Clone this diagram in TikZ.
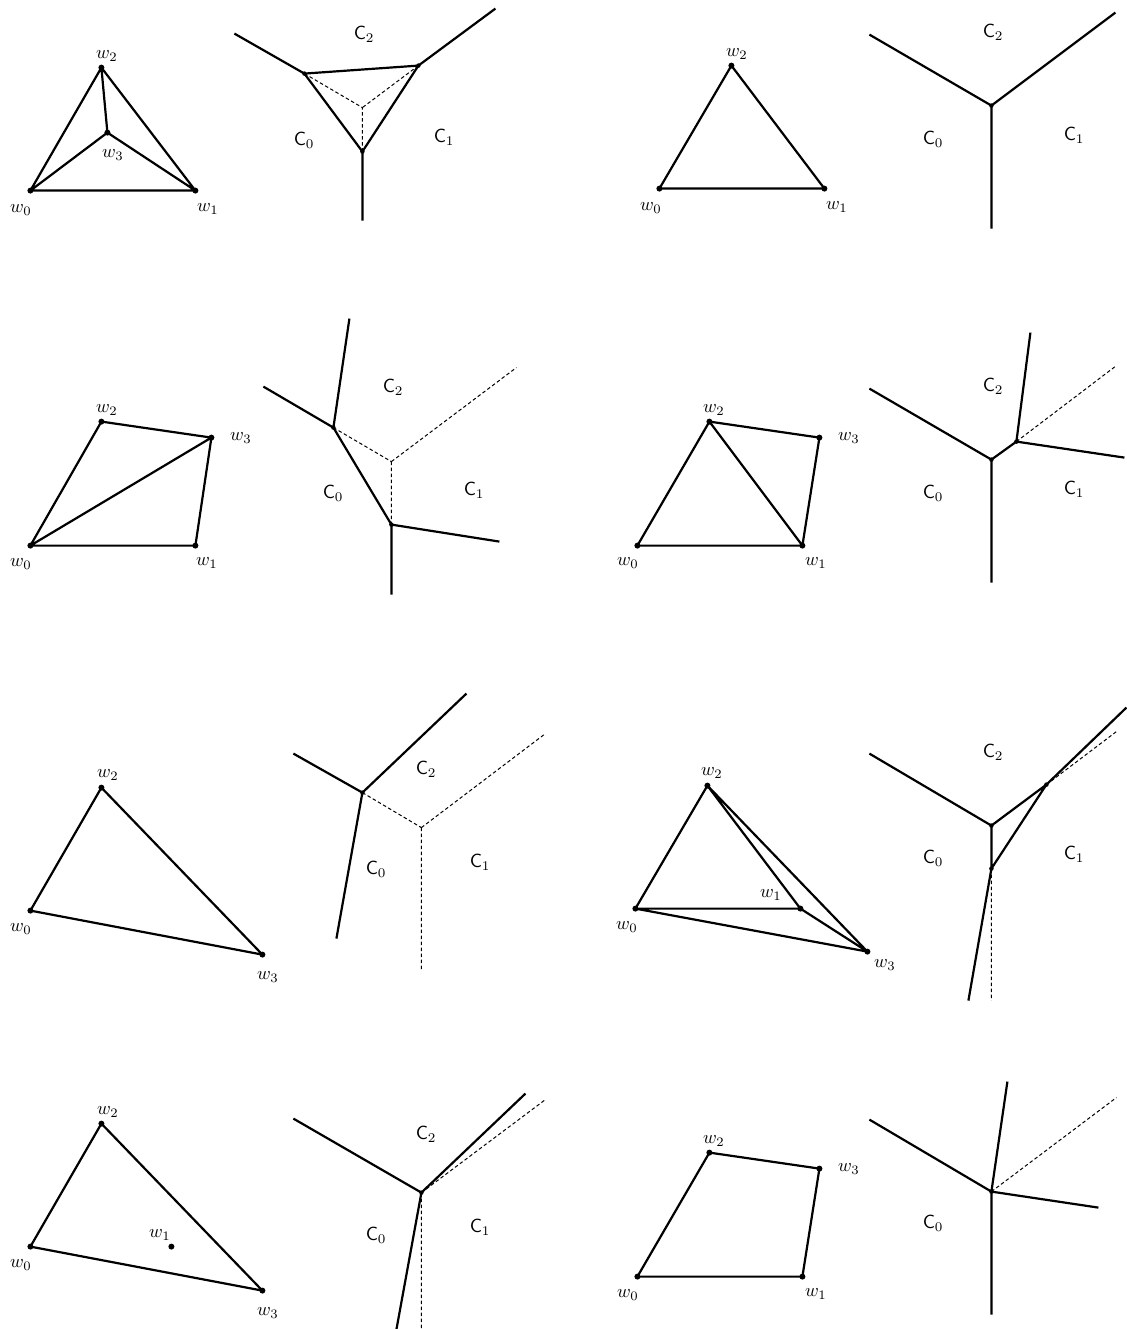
\documentclass[tikz,border=0pt]{standalone}
\tikzset{
  vx/.style={circle,fill=black,draw=none,inner sep=0pt,minimum size=6pt},
  dv/.style={circle,fill=black,draw=none,inner sep=0pt,minimum size=4.5pt},
  lab/.style={xshift=0.6pt,yshift=-1.2pt,scale=1.85,transform shape,inner sep=0pt,text=black},
  cellname/.style={xshift=0.7pt,yshift=-0.8pt,scale=1.9,transform shape,inner sep=0pt,text=black},
  solidline/.style={line width=2.2pt,black},
  dashline/.style={line width=1pt,black,dash pattern=on 3.5pt off 2.5pt},
}
\begin{document}
\begin{tikzpicture}[x=1pt,y=-1pt]
\useasboundingbox (-0.4,-0.6) rectangle (1125.6,1328.4);
\fill[white] (-0.4,-0.6) rectangle (1125.6,1328.4);

% ---------- Panel A
\node[vx] (a0) at (30,190) {};
\node[vx] (a1) at (195,190) {};
\node[vx] (a2) at (101,67) {};
\node[vx] (a3) at (107,132) {};
\draw[solidline] (a0.center)--(a1.center) (a1.center)--(a2.center) (a2.center)--(a0.center) (a0.center)--(a3.center) (a1.center)--(a3.center) (a2.center)--(a3.center);
\node[lab] (la0) at (20,208) {$w_0$};
\node[lab] (la1) at (207,207) {$w_1$};
\node[lab] (la2) at (106,54) {$w_2$};
\node[lab] (la3) at (112,153) {$w_3$};
\node[dv] (ap) at (304,73) {};
\node[dv] (aq) at (418,65) {};
\node[dv] (ar) at (362,151) {};
\coordinate (ao) at (362,107);
\coordinate (ae1) at (234,33);
\coordinate (ae2) at (495,8);
\coordinate (ae3) at (362,220);
\draw[dashline] (ap.center)--(ao) (aq.center)--(ao) (ar.center)--(ao);
\draw[solidline] (ae1)--(ap.center) (ae2)--(aq.center) (ae3)--(ar.center) (ap.center)--(aq.center) (aq.center)--(ar.center) (ar.center)--(ap.center);
\node[cellname] (ac0) at (303,139) {$\mathsf{C}_0$};
\node[cellname] (ac1) at (443,136) {$\mathsf{C}_1$};
\node[cellname] (ac2) at (363,33) {$\mathsf{C}_2$};

% ---------- Panel B
\node[vx] (b0) at (659,188) {};
\node[vx] (b1) at (824,188) {};
\node[vx] (b2) at (731,65) {};
\draw[solidline] (b0.center)--(b1.center) (b1.center)--(b2.center) (b2.center)--(b0.center);
\node[lab] (lb0) at (650,206) {$w_0$};
\node[lab] (lb1) at (836,205) {$w_1$};
\node[lab] (lb2) at (736,52) {$w_2$};
\node[dv] (bo) at (991,105) {};
\coordinate (be1) at (869,34);
\coordinate (be2) at (1115,12);
\coordinate (be3) at (991,228);
\draw[solidline] (be1)--(bo.center) (be2)--(bo.center) (be3)--(bo.center);
\node[cellname] (bc0) at (932,138) {$\mathsf{C}_0$};
\node[cellname] (bc1) at (1073,134) {$\mathsf{C}_1$};
\node[cellname] (bc2) at (992,31) {$\mathsf{C}_2$};

% ---------- Panel C
\node[vx] (c0) at (30,545) {};
\node[vx] (c1) at (195,545) {};
\node[vx] (c2) at (101,421) {};
\node[vx] (c3) at (211,437) {};
\draw[solidline] (c0.center)--(c1.center) (c1.center)--(c3.center) (c3.center)--(c2.center) (c2.center)--(c0.center) (c0.center)--(c3.center);
\node[lab] (lc0) at (20,562) {$w_0$};
\node[lab] (lc1) at (206,561) {$w_1$};
\node[lab] (lc2) at (106,408) {$w_2$};
\node[lab] (lc3) at (240,436) {$w_3$};
\node[dv] (cp) at (333,427) {};
\node[dv] (cq) at (391,524) {};
\coordinate (co) at (391,461);
\coordinate (ce1) at (263,386);
\coordinate (ce2) at (349,318);
\coordinate (ce3) at (499,541);
\coordinate (ce4) at (391,594);
\coordinate (ce5) at (516,367);
\draw[dashline] (cp.center)--(co) (co)--(ce5) (co)--(cq.center);
\draw[solidline] (ce1)--(cp.center) (ce2)--(cp.center) (cp.center)--(cq.center) (cq.center)--(ce3) (cq.center)--(ce4);
\node[cellname] (cc0) at (332,492) {$\mathsf{C}_0$};
\node[cellname] (cc1) at (473,489) {$\mathsf{C}_1$};
\node[cellname] (cc2) at (392,386) {$\mathsf{C}_2$};

% ---------- Panel D
\node[vx] (d0) at (637,545) {};
\node[vx] (d1) at (802,545) {};
\node[vx] (d2) at (709,421) {};
\node[vx] (d3) at (819,437) {};
\draw[solidline] (d0.center)--(d1.center) (d1.center)--(d3.center) (d3.center)--(d2.center) (d2.center)--(d0.center) (d2.center)--(d1.center);
\node[lab] (ld0) at (627,561) {$w_0$};
\node[lab] (ld1) at (815,561) {$w_1$};
\node[lab] (ld2) at (713,408) {$w_2$};
\node[lab] (ld3) at (848,436) {$w_3$};
\node[dv] (do) at (991,459) {};
\node[dv] (dp) at (1016,441) {};
\coordinate (de1) at (869,388);
\coordinate (de2) at (991,582);
\coordinate (de3) at (1030,332);
\coordinate (de4) at (1124,457);
\coordinate (de5) at (1116,365);
\draw[dashline] (dp.center)--(de5);
\draw[solidline] (de1)--(do.center) (do.center)--(de2) (do.center)--(dp.center) (dp.center)--(de3) (dp.center)--(de4);
\node[cellname] (dc0) at (932,492) {$\mathsf{C}_0$};
\node[cellname] (dc1) at (1073,488) {$\mathsf{C}_1$};
\node[cellname] (dc2) at (992,385) {$\mathsf{C}_2$};

% ---------- Panel E
\node[vx] (e0) at (30,910) {};
\node[vx] (e2) at (101,787) {};
\node[vx] (e3) at (262,954) {};
\draw[solidline] (e0.center)--(e2.center) (e2.center)--(e3.center) (e3.center)--(e0.center);
\node[lab] (le0) at (20,927) {$w_0$};
\node[lab] (le2) at (107,773) {$w_2$};
\node[lab] (le3) at (267,975) {$w_3$};
\node[dv] (ep) at (362,792) {};
\coordinate (eo) at (421,827);
\coordinate (ee1) at (293,753);
\coordinate (ee2) at (466,693);
\coordinate (ee3) at (336,938);
\coordinate (ee4) at (545,733);
\coordinate (ee5) at (421,969);
\draw[dashline] (ep.center)--(eo) (eo)--(ee4) (eo)--(ee5);
\draw[solidline] (ee1)--(ep.center) (ep.center)--(ee2) (ep.center)--(ee3);
\node[cellname] (ec0) at (375,868) {$\mathsf{C}_0$};
\node[cellname] (ec1) at (479,861) {$\mathsf{C}_1$};
\node[cellname] (ec2) at (425,768) {$\mathsf{C}_2$};

% ---------- Panel F
\node[vx] (f0) at (635,908) {};
\node[vx] (f1) at (800,908) {};
\node[vx] (f2) at (707,785) {};
\node[vx] (f3) at (867,951) {};
\draw[solidline] (f0.center)--(f1.center) (f1.center)--(f2.center) (f2.center)--(f0.center) (f0.center)--(f3.center) (f3.center)--(f2.center) (f1.center)--(f3.center);
\node[lab] (lf0) at (626,925) {$w_0$};
\node[lab] (lf1) at (770,893) {$w_1$};
\node[lab] (lf2) at (711,771) {$w_2$};
\node[lab] (lf3) at (884,963) {$w_3$};
\node[dv] (fo) at (991,825) {};
\node[dv] (fp) at (1046,784) {};
\node[dv] (fq) at (991,868) {};
\coordinate (fe1) at (869,753);
\coordinate (fe2) at (1126,707);
\coordinate (fe3) at (968,1000);
\coordinate (fe4) at (1116,731);
\coordinate (fe5) at (991,1000);
\draw[dashline] (fp.center)--(fe4) (fq.center)--(fe5);
\draw[solidline] (fe1)--(fo.center) (fo.center)--(fq.center) (fo.center)--(fp.center) (fp.center)--(fq.center) (fp.center)--(fe2) (fq.center)--(fe3);
\node[cellname] (fc0) at (932,857) {$\mathsf{C}_0$};
\node[cellname] (fc1) at (1073,853) {$\mathsf{C}_1$};
\node[cellname] (fc2) at (992,751) {$\mathsf{C}_2$};

% ---------- Panel G
\node[vx] (g0) at (30,1246) {};
\node[vx] (g1) at (171,1246) {};
\node[vx] (g2) at (101,1123) {};
\node[vx] (g3) at (262,1290) {};
\draw[solidline] (g0.center)--(g2.center) (g2.center)--(g3.center) (g3.center)--(g0.center);
\node[lab] (lg0) at (20,1263) {$w_0$};
\node[lab] (lg1) at (159,1233) {$w_1$};
\node[lab] (lg2) at (107,1110) {$w_2$};
\node[lab] (lg3) at (267,1311) {$w_3$};
\node[dv] (go) at (421,1192) {};
\coordinate (ge1) at (293,1118);
\coordinate (ge2) at (525,1093);
\coordinate (ge3) at (396,1329);
\coordinate (ge4) at (545,1099);
\coordinate (ge5) at (421,1329);
\draw[dashline] (go.center)--(ge4) (go.center)--(ge5);
\draw[solidline] (ge1)--(go.center) (go.center)--(ge2) (go.center)--(ge3);
\node[cellname] (gc0) at (375,1234) {$\mathsf{C}_0$};
\node[cellname] (gc1) at (479,1226) {$\mathsf{C}_1$};
\node[cellname] (gc2) at (425,1133) {$\mathsf{C}_2$};

% ---------- Panel H
\node[vx] (h0) at (637,1276) {};
\node[vx] (h1) at (802,1276) {};
\node[vx] (h2) at (709,1152) {};
\node[vx] (h3) at (819,1168) {};
\draw[solidline] (h0.center)--(h1.center) (h1.center)--(h3.center) (h3.center)--(h2.center) (h2.center)--(h0.center);
\node[lab] (lh0) at (627,1293) {$w_0$};
\node[lab] (lh1) at (815,1292) {$w_1$};
\node[lab] (lh2) at (713,1139) {$w_2$};
\node[lab] (lh3) at (848,1167) {$w_3$};
\node[dv] (ho) at (991,1191) {};
\coordinate (he1) at (869,1119);
\coordinate (he2) at (1007,1081);
\coordinate (he3) at (1098,1207);
\coordinate (he4) at (991,1314);
\coordinate (he5) at (1116,1097);
\draw[dashline] (ho.center)--(he5);
\draw[solidline] (he1)--(ho.center) (ho.center)--(he2) (ho.center)--(he3) (ho.center)--(he4);
\node[cellname] (hc0) at (932,1222) {$\mathsf{C}_0$};
\end{tikzpicture}
\end{document}
